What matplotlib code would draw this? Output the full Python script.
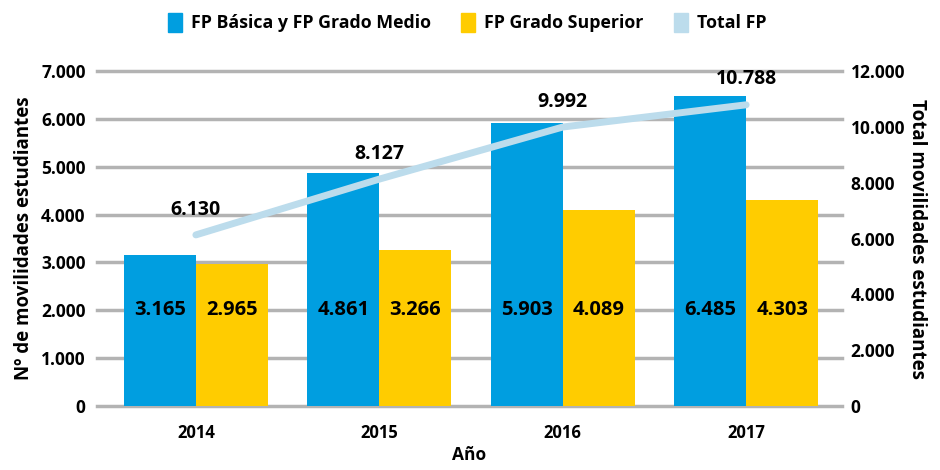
import numpy as np
import matplotlib
matplotlib.use("Agg")
import matplotlib.pyplot as plt
from matplotlib.patches import Patch

# data
years = ["2014", "2015", "2016", "2017"]
fp_basica_medio = [3165, 4861, 5903, 6485]
fp_superior = [2965, 3266, 4089, 4303]
total_fp = [6130, 8127, 9992, 10788]
left_ticks = [0, 1000, 2000, 3000, 4000, 5000, 6000, 7000]
right_ticks = [0, 2000, 4000, 6000, 8000, 10000, 12000]

blue = "#009ee0"
yellow = "#ffcc00"
light_blue = "#bcdcec"
grid_col = "#b3b3b3"

plt.rcParams["font.family"] = ["Open Sans", "DejaVu Sans"]
plt.rcParams["font.weight"] = "bold"


def fmt(v):
    return f"{v:,}".replace(",", ".")


fig = plt.figure(figsize=(9.4, 4.7), dpi=100)
ax = fig.add_axes([0.103, 0.136, 0.793, 0.713])

x = np.arange(len(years))
w = 0.393
ax.bar(x - w / 2, fp_basica_medio, w, color=blue, zorder=2)
ax.bar(x + w / 2, fp_superior, w, color=yellow, zorder=2)

# value labels inside the bars, all at the 2.000 level
for xi, a, b in zip(x, fp_basica_medio, fp_superior):
    ax.text(xi - w / 2, 2000, fmt(a), ha="center", va="center", fontsize=14.5, fontweight="bold", zorder=3)
    ax.text(xi + w / 2, 2000, fmt(b), ha="center", va="center", fontsize=14.5, fontweight="bold", zorder=3)

ax.set_xlim(-0.54, 3.524)
ax.set_ylim(0, 7000)
ax.set_yticks(left_ticks)
ax.set_yticklabels([fmt(t) for t in left_ticks], fontsize=12.5, fontweight="bold")
for t in left_ticks:
    ax.axhline(t, color=grid_col, lw=2.5, zorder=1, clip_on=False)
ax.set_xticks(x)
ax.set_xticklabels(years, fontsize=12, fontweight="bold")
ax.tick_params(length=0, pad=8)
ax.tick_params(axis="x", pad=13)
for s in ax.spines.values():
    s.set_visible(False)
ax.set_xlabel("Año", fontsize=12.5, fontweight="bold", labelpad=3)
ax.set_ylabel("Nº de movilidades estudiantes", fontsize=13.5, fontweight="bold", labelpad=5)

ax2 = ax.twinx()
ax2.set_ylim(0, 12000)
ax2.set_yticks(right_ticks)
ax2.set_yticklabels([fmt(t) for t in right_ticks], fontsize=12.5, fontweight="bold")
ax2.tick_params(length=0, pad=6)
for s in ax2.spines.values():
    s.set_visible(False)
ax2.plot(x, total_fp, color=light_blue, lw=5, solid_capstyle="round", zorder=4, clip_on=False)
for xi, v in zip(x, total_fp):
    ax2.text(xi, v + 550, fmt(v), ha="center", va="bottom", fontsize=14, fontweight="bold")
ax2.set_ylabel("Total movilidades estudiantes", fontsize=13.5, fontweight="bold", rotation=-90, labelpad=16)

handles = [Patch(color=blue), Patch(color=yellow), Patch(color=light_blue)]
labels = ["FP Básica y FP Grado Medio", "FP Grado Superior", "Total FP"]
fig.legend(handles, labels, loc="center", bbox_to_anchor=(0.497, 0.952), ncol=3, frameon=False,
           prop={"weight": "bold", "size": 12.8},
           handlelength=0.8, handleheight=1.3, handletextpad=0.5, columnspacing=1.7)

fig.savefig("out.png", dpi=100)
